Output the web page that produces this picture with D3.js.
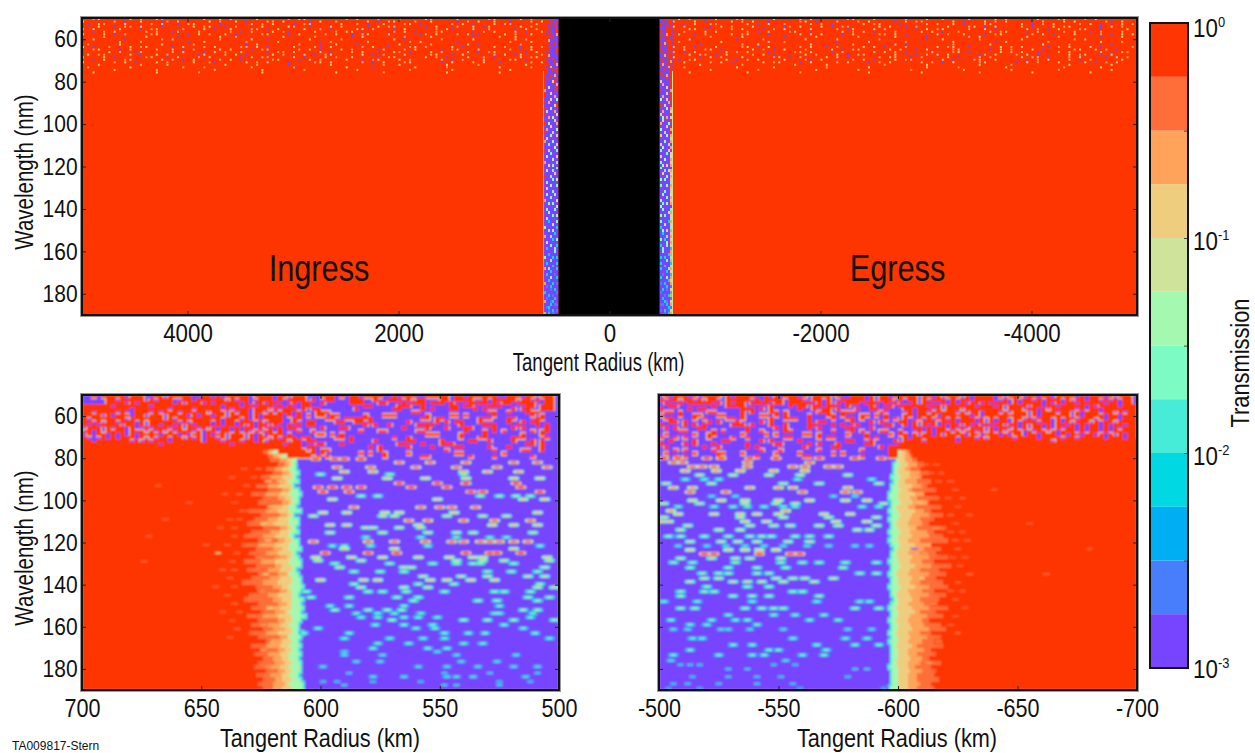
<!DOCTYPE html>
<html>
<head>
<meta charset="utf-8">
<script src="https://cdn.jsdelivr.net/npm/d3@7"></script>
<style>
  html, body { margin: 0; background: #fff; overflow: hidden; }
  svg { display: block; }
  text { font-family: "Liberation Sans", Arial, sans-serif; fill: #111; }
</style>
</head>
<body>
<div id="chart"></div>
<script>
// transmission bands, index 0 = 10^-3 ... index 11 = 10^0
const BAND_COLORS = [
  '#7744ff', '#487dfc', '#00aef4', '#00d8e4', '#47ecd9', '#7cfcc4',
  '#a5f8b0', '#d0e39a', '#efcd7f', '#ffa25a', '#ff6d38', '#ff3503'
];
const BAND_EDGES = [0.001, 0.00178, 0.00316, 0.00562, 0.01, 0.0178, 0.0316, 0.0562, 0.1, 0.178, 0.316, 0.562, 1];
const COLORBAR_TICKS = [0.001, 0.00316, 0.01, 0.0316, 0.1, 0.316, 1];
const COLORBAR_LABELS = [[1, '0', 14], [0.1, '-1', 12], [0.01, '-2', 11.5], [0.001, '-3', 10]];

const WL_TICKS = [60, 80, 100, 120, 140, 160, 180];
const TOP_TICKS = [4000, 2000, 0, -2000, -4000];
const INGRESS_TICKS = [700, 650, 600, 550, 500];
const EGRESS_TICKS = [-500, -550, -600, -650, -700];

// char -> band for the speckle grids, '.' leaves the background showing
const CHAR_BAND = { p: 0, b: 1, c: 3, t: 5, g: 6, w: 7, y: 8, o: 9, r: 11 };

// top panel: occulted core and the two dark limb strips (km)
const CORE_RANGE = [483, -474];
const STRIP_LEFT = [625, 483];
const STRIP_RIGHT = [-474, -597];

// top panel speckle, 50 km columns, 1.2 nm rows from 50 nm
const topNoiseIngress = [
  '..oy.p...y.o..yo.....p.y..y.o...py.....o.yy..p....o.y...o.p.y....yo..p.y.....oy.p..y.o.',
  'y.....o.p..y...po.y.....y.o..y.p...oo.y....p.y..o.....y.p.oy...o..y....p.o.y..y..p...o.y',
  '.p.yo...y....o.y..p.oy....p.....y.o.y...p.oy.....y..o.p..y...oy.p.....o.y.p...y.oo....y.',
  '...y..p.oo.y...p.....y.oy..p.o....y....yo..p...y.o....p.y.oy.....p.y...o..y.po.....y.o..',
  'o.y....y...p.oy....o...y.p..y...oo.p.y....y..o.p....yy.o...p.y.....o.yp...y..o....p.y.o.',
  '..p.o.y.....y.o..py...y.....o.p.y...y.op....y...o.yy.p.....o.y.p...oy.....p.o.y...y.p..o',
  'y...y.p.o....oy.....p.y.o..y.p....oy...p.y....o.y..p.oy...y.....po.y...o.y.p....y.o..y..',
  '....o.......y.....p.......y..o........y.....o......p.y.......o....y.......p....o..y.....',
  '..y.....p......o.y........o.....y..p.......y.....o.........y.p......o.....y.......y.o...',
  '.......y...o........p..y.......o.....y.......p.o......y.......o.y......p.........o...y..',
  '.o.....y.......y.....o.........p.y.......o......y...p.......y.....o......y.p.......o....',
  'y.p..o...y.oy....p.y...o.y....oo.y.p....y...op.y.....o.y..p...oy.o....y.p.....y.o..p.y.o',
  '..oy...p.y....o..y.p.o....y.y...p.oy.....o.y.p...y.o....py...o.y....p.oy...y.....o.p.y..',
  'p....y.o..py.....o.y...p.y.o..y....p.oo.y....y.p...o.y.....yo.p...y.o....y.p.oy.....p.y.',
  '.y.oo....y.p..y.o.....py...o.y.p....y.o...y.p.oy.....y.p.o...y....oy..p.y.....o.y.py...o',
  'o...y.p.....oy..p.y...o.y.....p.y.oo....y.p...y.o..y....p.oy.....y.o.p...y..o.p....y.oy.',
  '..p.y...oy.....y.o.p.y....o.y.p.....oy...p.y.o....y..p.oy...y.o.....y.p.o...y....oy.p...',
  'y.....o.y.p...y.o....y..op.....y.o.y...p....oy.y.....o.p.y...oy.....p.y...o.y..p.....o.y',
  '...y.......o....y..........y.....o.....p.......y.........o..y........y.....o........y...',
  '.o.......y.........y...o........y.......o.........y....p.......y.....o.........y.....o..',
  '......y.......o..........y........y.......o.........y.........o.......y..........y......',
  '..y...........y.......o...........y.............y........o...........y.........y........'
];
const topNoiseEgress = [
  '.y.o..p.y...oy.....y.p..o.y....p.oy...y.....o.p.y..o....yp...y.o.....y.p.oy...o.y..p....',
  'o...y.p....y.o.y..p.....oy.p...y...o.y....p.y.oo.....y.p...y.o.y....p.o...y.y.....op.y..',
  '..p.y..oo.....y.p.y..o....y.o.p.....y.oy...p....y.o..y.p...oy.....y.p.o.y....o.y.p...y.o',
  'y.o....p.y.o...y.....po.y...y.p.oo.....y.y..p.o.....y...oy.p.y....o.p...y.oy.....p.y.o..',
  '...yy.p....o.y...p.o.y....y....o.py...y.o.....p.y.oy....o..y.p.....y.o.p.y...oy..p....y.',
  'p.o...y.y.....o.p.y...oy..p.....y.o.y.p...o....y.y.p..o.....y.oy...p.y....o.y..p.o...y..',
  '.y..p.o....y.oy...p.....y.o.y...p.y....oo.y.p.....y.o..y...p.oy.....o.y.p...y....o.p.y.y',
  '.......o.....y.......p.....y.......o......y.....p.......o.y........y.....o.......p...y..',
  '...y........p....o.......y.....y.......o........p..y......o.......y.........o.y.........',
  '.o.......y........y..o.........p.....y......o........y.......p.y.......o.........y...o..',
  '.....p.......o..y.........y.......o.......y.p........o......y.........y....o.......p....',
  'y.o.p...y....oy.p.y.....o.y..p.o....y.y.p...o.....y.oy..p.....y.o.y....p.o.y...y.p.....o',
  '..y...oy.p.....y.o.p.y...o....y.p.oy.....y.o..p.y....oy.....p.y.o...y.p.....oy..y.o.p...',
  'o.p.y.....y.o.y...p....oy.y...p.o.....y.y.o.p....y...oy.p.....y.o.y..p...o.y.....y.p.oo.',
  '...y.oo.p.y....o.y.p.....y.o...y.p.oy.....y...p.o.y.y.....po.y...o.y.p.....y.oy..p.y....',
  'y....p.y.o...y.....oy.p.o....y.y.p.....o.yy..p.o....y.p...y.o.....y.oy.p...o.y....p.y.o.',
  '.p.oy.....y.p.o.y....y...op.y.....o.y.p...y.oo.....y.p...oy..y.....p.o.y...y.p.o.....y..',
  '..y....o.y.p.....y.oy...p.y....o.y...p.o.y.....y.o.p.y....oy.....p.y.o...y....y.p.o.y...',
  '.....y.......o.........y.....y..........o.......y.........y.....o..........y.......y....',
  '..o.........y......y.........o.......y..........y.....o........y..........o......y......',
  '.......y........o..........y.......y.........o.........y........y........o.........y....',
  '...y..........y.........o............y.........y..........o.........y..........y........'
];

// limb strips, 20 km columns, 1.4 nm rows from 50 nm
const stripLeftNoise = [
  'rrr.r..', 'rrrr..r', 'rr.r.r.', 'rrr...r', 'rr.r..r', 'r.rr..o', 'rrr.r..', 'rro....', 'rrr..r.', 'rr.r...', 'rrr...r', 'r.r...r', 'rro....', 'r.r.r..', 'rr...r.', 'rrr...o', 'r.ro...', 'rr..r.r',
  'rr....r', 'r..r.o.', 'r.r...r', 'r...yr.', 'r.....o', 'r.y...r', 'o....r.', 'r..y...', 'r....o.', '...y..g', 'r.o....', '.....yr', 'r..g...', '.y...o.', 'r.....y', '..o.g..', '.....y.', 'r.g...o', '...y...', '.o....g', 'r...y..', '...g..y', '.y.....', 'o...g..', '..t...y',
  '.....g.', 'r.y...t', '...t...', '.g....y', '....g..', 'o.....t', '..y.g..', '......t', '.g..t..', '.....y.', 'r..g...', '....t.g', '.t.....', '...g..t', '.y.....', '....t..', '.g...g.', '...t...', 'o.....g', '..g.t..', '......g', '.t...t.', '..g....', '....t.g', '.t.....', '..c...t', '....g..', 't.....c', '..t.g..', '.....c.', 'o..t...', '....c.t', '.g.....', '...t..c', '.c...t.', '.....t.',
  '..c....', 't...c.c', '...t...', '.c....c', '....c..', 'o.t...c', '...c...', '.c...b.', '...t..c', '..c....', 'o...c.b', '.b.c...', '...b.c.', 'c.....b', '..c.b..', '.b...c.', 'o..bc..', '...c.bb', '.bc....', '..b.c.b', 'o.c.b..'
];
const stripRightNoise = [
  '..r.rr', '.r..rr', 'r..r.r', '...rrr', 'r..rrr', '.r.orr', 'r..rr.', '...rrr', 'r.o.rr', '..r.rr', 'r...rr', '.r.r.r', '..o.rr', 'r..r.r', '.r..ro', '.o.r.r', 'r...or', '..r..r',
  'r....r', '.r.o.r', '...r.r', 'y....r', '.o...r', '...y.r', 'r....o', '...y.r', '.o...r', 'g..y.r', '....o.', 'r.y..r', '...g.o', '.o...y', 'y....r', '.g.o.y', '.y...r', 'o...g.', '...y.r', 'g....o', '..y..r', 'y..g.o', '.....y', '..g..o', 'y...t.',
  '.g...o', 't...y.', '...t.y', 'y....g', '..g..o', 't....y', '.g.y.o', 't.....', '..t.go', '.y...y', '...g.o', 'g.t..y', '.....t', 't..g.o', '.....y', '..t..y', '.g...g', '...t.o', 'g....y', '.t.g.o', 'g.....', '.t...t', '....go', 'g.t..y', '.....t', 't...co', '..g..y', 'c....t', '.g.t.o', '.c...y', '...t.o', 't.c..y', '...g.o', 'c..t.y', '.t...c', '.t...o',
  '....co', 'c.c..t', '...t.o', 'c....c', '..c..y', 'c...to', '...c.y', '.b...c', 'c..t.o', '....cy', 'b.c..o', '...c.b', '.c.b.y', 'b....c', '..b.co', '.c...b', '..cb.y', 'bb.c.o', '....cb', 'b.c.by', '..b.co'
];

// lower panels, 50-80 nm: red blocks on the purple floor, 2 km columns, 1.5 nm rows
const ingressClumps = [
  '..r.rrrrr.rrr..rr.rrrrr..rr.r.rrrrr.rrrr.rr.rrr...rrr.r.rr.rrrr..r.rrr..rrrrr.rr.rrrrrr..rrr.rr.rrr',
  '.....rr.rrrrr.r.rrr..rr.rrrrrr.r.rr..rrr.r.rrrr.r..rr...rrr..r..rrr.r.rr...rr.rrrr..r.rrrrr.rr.r.rr',
  '.....rrrr.r.rrrrrrr.r.rrr.r.rrrrr.r.rr.rr...r.rr..r.....rrr...rr...r.rrr.rrr.r...rrrr.r.rr.rrrr..rr',
  'rrrrrr.rrrrrrr.rrrrrrrrrrrrrr.rrr.rr.rrr.r.r..rr...........rr.....rrr..r.....rr.rr...rrr.....rr.rrr',
  'rrrrrrrrrr.rrrrrrr.rrrr.rrrrr.r.rrr.rrr.r.rrr.r.rr.......r.......rr....r.r...rr...r.r.....r.rr..rrr',
  'rr.rrrr.r..rrr.r.rrr.rrrrr.rrr.r.rr.rr.r.rrr.r...rrr.................rr..............rr..r...rrr....',
  'rrrr.r.rrr.rr.rrr.rrrr.r.rr.rr.rrrr.r.rrrr.r.r.r.rr.rr.....r...rrr......r....rr.r.....r.......r.r..',
  'r.rrrrrrr.rrrrrrr.r.rrrrrrrrr.rrr.r.r.rrrr..rr.....rr..rrrrrr..........rr.rr.......rrr...rr....rr..',
  'rr.r.rr.rrr.r.rrrrrr.r.rrrr.r.rr.rrr.r.rrr..r..rr....rr..rr.r.......r.....r.r.rr...r.....r..r.rr...',
  'r.r.rrrr.rr.r.rr.rr.r.r.rrr.r.rr.r.r.rr.r..r.r.rr..........r.r..r.....rrrr.....r....rrr....r...r.r.',
  '.rrr.r.rr.r..r.rrr.rr.rr.r.r.rr.r.rr.r.r.r.rr.....r...rr...........r....r...r...rr....r...r.r....r.',
  'rr.r.rrrr.rrr.r.r.r.rrr.r.rr.rr.r.r.r.rr.r...r..r.........r...rr......rr........r...r.r.r.....r.rr.',
  '.r.rr.r.r.r.rrrr.rrr.r.rr.r.rr.rrr.r.r.rrr.r.....rr.r.r.................rrr....r....r.......r...r..',
  'r...r.r.rrr.r.r.rr.rr.r.r.rr.r.rrr.r.rr.r.rrr.rr.....rr.r........r..r..........r...rr.....rrr....r.',
  'rr.rrrrrrr.r.r.rrr.rrrrrr.rrr.rrr.rr.r.rrrr.rr.rr.......r....r......rr.....r.....rr..r....r...r.r..',
  'rrrrrrrrrrrrrrrr.rrrrrrrrrrrrrr.rrrrrrrrrr.rrr...rr...r...........rr...r...rrr...............rr.r..',
  'rrrrrrrrrrrrrrrrrrrrrrrrrrrrrrrrrrrrrrrrrrrrrr.rr...........r.r.....r....r....rr.....r...r......r..',
  'rrrrrrrrrrrrrrrrrrrrrrrrrrrrrrrrrrrrrrrrrrrrrrr.r.rr..........r.............r.........r.....rr..r..',
  'rrrrrrrrrrrrrrrrrrrrrrrrrrrrrrrrrrrrrrrrrrrrrrrrr.r.......r.r..r....r.........rr........r..........',
  'rrrrrrrrrrrrrrrrrrrrrrrrrrrrrrrrrrrrrrrrrrrrrrrr.r.r...........r.......rr........r....r.......r....'
];
const egressClumps = [
  '.r.rrr.r.rrrr.r.rrrr..r.r.rrr.r.rrrr.r..rrr.r.rr.rrrrr.rr.r.rrr.r.rrrr.r.rrr.rr.rr.rrrr.r.rrr.r.rrr',
  'r.rr.rr.r.rr..rrrrr.r.rrrr.rrr..rr.r..rrrrr.r.rrr.r.rr.r.rrr.r.rr.rrrr..r.r.rr.r.rrr.r.rr.rr.r.r.rr',
  '.r..r.rrrrr.r.r.rr.rrrr.rr.rrrrr.r.r.r.rrr.rrr.r.r...r.rr..r.r.r.rr.r.rrr.r.rrrr.r.r.rr.rrrrr.rr.rr',
  '..rr.......r..rrrr.....r...r.rr.rr.rr..r....r...r.rrrrrr.rr.rrrrrr.rrr.r.rrrr.rr.rr.rrrrr.r.rrrr.rrr',
  'r.....r.rr.......rrr.r.r.....r..r.rr.r...r..rr.r...rr.rrr.r.rrr.rrrrrrrr.rrr.rr.r.rrrrr.r.rr.rrrrrrr',
  '.rr.r.....rr.....r.r...rr.r......rrr..rrr.....r.....r.rr.rrrrr.r.rr.rrr.r.rrr.r.rrr.rr.r.rrr.rr.r.rr',
  'r...r..rr...rr...r...rr.r.r....r...rr.r...rr.r.r...rr.rrrr.rrrrrr.r.rrrrrrrrr.r.rrrrrr.r.rrrr.rr.rrr',
  '.rr....r.r....rr.r.....r..rrr..r....r..rr.r....r.r.r..r.r.rr.r.rrr.r.r.rr.rr.r.rrr.r.rr.rrr.r.rr.rrr',
  '..rr.r....r.r...r....r.r.......r.rr.....r...r.r...rr.r.rrr.rrr.rrr.r.r.rr.r.rrr.rr.r.r.rrr.r.rr.rrrr',
  'r....r.r.r.....rrr.r...r..r....rr...r.r..r.....rr..r.r.r.r.r.rr.r.r.r.rr.rr.r.rr.r.rr.r.r.rr.r.rr.rr',
  '.r.r....rr........r.....r.r....r.r.....rr...r........rr.r.rr.r.r.rrr.r.rr.r.r.rr.r.r.rr.r.rr.r.r.rrr',
  '....rr.....r.r....r..r....rr........r...r.r...rr..r...r.r.rrr.r.rr.r.r.r.rrr.r.rr.r.rrr.r.rr.r.rrrrr',
  '.r.....r..rr.....r....r.r.....rr.r.....r...r....r.rr.r.rr.r.rrrr.rr.rrr.r.rr.rr.rrr.r.rr.rr.r.r.r.rr',
  'r..r.r....r....r..r.......rr.....r.rr......r.r.....r.rrrrrrrrr.rrr.r.rrrrr.rrrr.rrrr.rr.rrrrr.rrr.rr',
  '..r....r.....rr......r.r.....r.........rr...r....r.rrrr.rrrrrr.rrrrrrrrrrrrrrrrrrr.rrrrrrrrrrrrrrrrrr',
  'r....r.r...r......r.....rr.....r.r...r.....rr.....rrrrrrrrrrrrrrrrrrrrrrrrrrrrrrrrrrrrrrrrrrrrrrrrrrr',
  '.r.......r..r.....r.r.........r.....rr........r.rrrrrrrrrrrrrrrrrrrrrrrrrrrrrrrrrrrrrrrrrrrrrrrrrrrrr',
  '...r.r.....r.........r...r.......r........r.....rrrrrrrrrrrrrrrrrrrrrrrrrrrrrrrrrrrrrrrrrrrrrrrrrrrrr',
  '.r.....r....rr...r......r....r......r.r.........rrrrrrrrrrrrrrrrrrrrrrrrrrrrrrrrrrrrrrrrrrrrrrrrrrrrr',
  '...r.r......r.......r.........rr..........r.....rrrrrrrrrrrrrrrrrrrrrrrrrrrrrrrrrrrrrrrrrrrrrrrrrrrrr'
];

// lower panels, wavelengths of the radial transition profile (nm)
const edgeWl = [76,78,80,82,84,86,88,90,92,94,96,98,100,102,104,106,108,110,112,114,116,118,120,122,124,126,128,130,132,134,136,138,140,142,144,146,148,150,152,154,156,158,160,162,164,166,168,170,172,174,176,178,180,182,184,186,188,190];

// radius where each band gives way to the next, ingress side (km)
const ingressRed = [626,624,622,621,618,623,620,625,621,627,622,629,624,626,621,630,625,628,631,624,629,632,626,633,627,630,625,632,627,631,626,629,633,627,625,630,632,626,629,625,631,626,629,624,630,626,623,629,625,628,624,626,628,623,627,624,626,624];
const ingressOrange = [624,622,620,617,615,619,616,621,617,622,616,623,618,616,620,623,617,622,625,617,621,624,618,626,620,623,617,625,619,622,618,621,624,620,617,622,620,618,623,619,624,618,622,620,623,617,621,623,618,622,620,619,621,618,621,619,620,620];
const ingressAmber = [623,621,618,614,613,616,613,616,615,618,613,617,615,613,616,618,614,618,619,614,617,619,615,619,616,618,614,619,616,617,614,617,618,616,614,618,616,614,617,615,618,615,617,615,618,614,616,617,615,617,616,615,617,615,616,616,615,616];
const ingressTan = [622,620,616,612,612,613,612,612,613,612,612,613,612,612,613,613,612,613,613,612,613,613,612,613,613,612,612,613,612,612,613,612,612,613,612,612,612,612,612,613,612,612,613,612,612,613,612,613,612,613,613,612,613,612,613,612,613,612];
const ingressFront = [621,618,614,610,610,610,609,610,609,611,609,608,609,609,610,608,611,609,609,610,609,611,609,609,608,610,609,608,608,610,609,608,608,607,608,609,607,608,607,608,606,608,609,609,607,608,609,608,609,608,609,608,608,608,609,608,607,607];

// same profile, egress side
const egressRed = [-604,-605,-606,-608,-611,-609,-613,-610,-614,-612,-616,-611,-617,-613,-618,-614,-619,-615,-613,-620,-615,-619,-621,-614,-618,-616,-621,-615,-622,-617,-620,-616,-619,-621,-615,-620,-617,-614,-621,-616,-619,-613,-618,-620,-614,-618,-615,-619,-614,-616,-613,-618,-614,-616,-615,-617,-614,-615];
const egressOrange = [-603,-604,-605,-606,-608,-605,-609,-607,-608,-610,-606,-611,-608,-612,-607,-611,-613,-609,-610,-608,-612,-613,-609,-614,-611,-609,-613,-610,-614,-609,-613,-611,-609,-613,-610,-613,-609,-611,-613,-609,-612,-610,-611,-613,-609,-612,-610,-608,-611,-608,-610,-609,-607,-610,-608,-608,-609,-608];
const egressAmber = [-602,-603,-603,-603,-604,-603,-605,-604,-603,-606,-604,-607,-605,-606,-604,-607,-606,-605,-604,-607,-605,-606,-604,-607,-605,-604,-606,-605,-607,-605,-604,-606,-605,-607,-604,-605,-606,-604,-606,-607,-605,-604,-605,-606,-604,-605,-604,-606,-604,-604,-605,-604,-604,-605,-604,-604,-604,-604];
const egressTan = [-601,-601,-601,-600,-601,-600,-600,-601,-600,-600,-601,-600,-600,-601,-599,-600,-601,-600,-599,-600,-601,-600,-600,-601,-600,-599,-600,-600,-601,-600,-599,-600,-600,-601,-600,-599,-600,-600,-599,-600,-600,-599,-600,-600,-599,-600,-600,-599,-600,-600,-600,-599,-600,-600,-600,-600,-600,-600];
const egressFront = [-600,-600,-600,-599,-598,-598,-598,-597,-598,-597,-597,-596,-596,-597,-597,-596,-597,-596,-597,-597,-596,-597,-596,-597,-598,-597,-597,-596,-597,-597,-596,-597,-597,-596,-597,-597,-598,-597,-596,-597,-597,-596,-597,-597,-596,-597,-596,-597,-597,-597,-597,-597,-596,-597,-597,-597,-597,-596];

// isolated specks: [wavelength, band, radius, radius, ...]
const ingressSpecks = [
  [80.4, 11, 602, 594, 590, 583], [82, 10, 567, 554, 539, 519, 509], [84.3, 10, 593, 579, 560, 543, 526, 505],
  [86.4, 9, 590, 578, 540, 530, 517], [87.6, 6, 600, 571, 540], [89.5, 8, 593, 572, 556, 539, 519, 508],
  [91.9, 11, 567, 551, 539, 518], [93.8, 11, 601, 595, 589, 583, 562, 547, 516], [95.9, 11, 599, 588, 537, 532, 508],
  [97.9, 6, 583, 576, 533, 525, 518, 512], [99.5, 8, 595, 551, 515, 506], [103.3, 10, 586, 558, 550, 545, 535],
  [105.8, 8, 599, 589, 573, 567, 544, 509], [107.4, 7, 603, 574, 569, 547, 532, 522], [109.6, 10, 563, 555, 540, 527, 512],
  [111.7, 8, 596, 589, 559, 528, 519, 509], [113, 7, 581, 578, 567, 558], [115.3, 7, 596, 574, 555, 543, 536, 511],
  [117.5, 5, 581, 558, 543, 529, 522], [119.6, 10, 603, 580, 569, 556, 545, 540, 533, 529, 525, 519, 513],
  [121.6, 5, 595, 590, 579, 555, 508], [123, 8, 590, 569, 519], [125, 11, 598, 580, 568, 539, 529, 526, 516],
  [127, 8, 602, 587, 574, 559, 546, 536, 532, 505], [128.6, 7, 601, 583, 543, 532, 523, 504], [130, 6, 594, 571, 553, 543, 536, 533, 519],
  [131.8, 7, 592, 565, 562, 506], [133.8, 6, 586, 575, 565, 530, 520, 509], [136, 7, 557, 541, 530, 513, 506],
  [137.8, 8, 600, 582, 576, 554, 547, 537, 527], [139.7, 6, 586, 559, 544, 508], [141.3, 7, 583, 565, 555, 509, 502],
  [143.3, 6, 606, 580, 574, 564, 548, 527, 523, 512], [146, 6, 604, 588, 568, 559, 513, 504], [147.6, 6, 561, 534, 526, 509],
  [150.1, 5, 596, 588, 565, 525], [152, 6, 594, 580, 572, 566, 515, 509], [153.6, 5, 585, 576, 569, 558, 527, 525, 511],
  [155.5, 5, 583, 576, 565, 559, 551, 512], [156.8, 6, 570, 540, 530, 519, 502], [159.1, 5, 577, 565, 553, 523],
  [160.7, 5, 601, 560, 552, 515], [163, 5, 607, 588, 548, 538, 531, 510], [165.5, 5, 590, 571, 557, 548, 504],
  [167.9, 5, 576, 563, 540, 532], [170.2, 5, 578, 555, 547], [171.8, 4, 590, 551], [173.4, 4, 590, 574, 543, 518],
  [176.5, 4, 585, 575, 541, 526], [178.9, 4, 599, 559, 547, 534, 519, 509], [182, 3, 588, 548, 529, 509],
  [183.7, 4, 578, 565, 547, 543, 536, 514], [186, 3, 599, 593, 578, 558, 525, 512], [187.6, 3, 590, 548, 543, 525]
];
const egressSpecks = [
  [80, 11, -502, -508, -520, -526, -538, -549, -567, -582, -593], [82, 10, -506, -510, -537, -563],
  [84, 10, -514, -518, -523, -537, -556, -561, -571, -575], [86, 9, -511, -524, -534, -548, -561],
  [88, 7, -517, -531, -546, -559, -579], [90, 5, -511, -519, -525, -558, -589], [92, 7, -503, -522, -552, -567, -592],
  [94, 9, -506, -514, -538, -550, -556, -579], [96, 10, -513, -528, -560, -578, -583], [98, 4, -522, -532, -573, -582],
  [100, 8, -514, -526, -536, -550, -563, -578, -587], [101.5, 7, -502, -517, -536, -549, -557, -594],
  [103, 5, -508, -523, -531, -537, -544, -552, -557, -585, -592], [105, 9, -505, -553],
  [106.5, 8, -508, -523, -534, -541, -550, -569, -580], [108, 7, -502, -534, -552, -571, -591],
  [110, 8, -501, -504, -536, -545, -574, -587], [112, 7, -512, -538, -548, -555, -567, -575, -591],
  [114, 7, -509, -525, -534, -583, -588], [117, 6, -504, -509, -519, -529, -538, -543, -547, -557, -563, -571],
  [119.6, 7, -513, -526, -533, -541, -554, -563], [121.6, 4, -508, -520, -528, -536, -544, -552, -562, -571, -582, -588],
  [123.5, 8, -513, -529, -536, -542, -549], [125.4, 11, -519, -523, -542, -555, -559], [127.5, 7, -509, -522, -532, -538, -551],
  [129.5, 6, -506, -514, -532, -551, -560, -567, -578, -591], [132, 6, -513, -529, -541, -553, -577],
  [134.6, 6, -518, -525, -529, -541, -546, -584, -591], [137, 7, -519, -525, -549, -556, -561, -573],
  [138.6, 7, -513, -531, -537, -543, -552, -565], [141, 6, -520, -537, -546], [143.3, 6, -509, -519, -523, -556, -560],
  [145.4, 6, -509, -531, -539, -546, -567], [148, 5, -502, -516, -539, -566, -584, -588],
  [151.2, 6, -509, -515, -536, -543, -548, -552, -582, -592], [154.4, 5, -529, -548, -557, -569],
  [156.8, 5, -505, -522, -532, -537, -563, -575], [159, 5, -513, -520, -541],
  [161.2, 4, -506, -512, -526, -529, -538, -552, -579, -589], [165.5, 5, -514, -518, -556, -578, -587],
  [168.6, 5, -531, -539, -566, -582, -592], [171, 5, -513, -546, -550, -570], [173.4, 5, -506, -525, -539, -544, -560, -569],
  [176, 4, -505, -553], [178, 3, -509, -513, -517, -548, -557], [180, 3, -529, -537, -582, -587],
  [183.7, 3, -514, -529, -541, -551, -579], [187, 3, -506, -512, -525, -541, -556], [189, 2, -504, -517, -559, -594]
];
// small flecks in and around the comb of the transition zone
const ingressFlecks = [
  [85, 10, 632, 626], [89, 10, 637, 628], [93, 10, 668, 631], [97, 10, 640, 634], [101, 10, 655, 636], [105, 10, 633, 630],
  [109, 10, 665, 638, 634], [113, 10, 642, 636], [117, 10, 672, 636], [121, 10, 648, 639], [125, 8, 643], [125, 10, 635], [129, 10, 674, 637],
  [133, 10, 641, 636], [137, 10, 638], [141, 10, 644, 636], [145, 10, 639], [149, 10, 636], [153, 10, 641, 634], [157, 10, 637], [161, 10, 635], [165, 10, 638],
  [91, 8, 622, 617], [103, 8, 621, 618], [111, 8, 624, 619], [119, 8, 622], [127, 9, 626, 618], [135, 8, 623], [143, 9, 625], [151, 8, 621], [159, 9, 624], [171, 9, 624], [179, 9, 622]
];
const egressFlecks = [
  [83, 10, -612, -616], [87, 10, -618, -614], [91, 10, -622, -617], [95, 10, -624, -640], [99, 10, -621, -627], [103, 10, -625], [107, 10, -630, -622],
  [111, 10, -624, -655], [115, 10, -627, -622], [119, 10, -629, -624], [123, 10, -625, -680], [127, 10, -628, -623], [131, 10, -626], [135, 10, -630, -662],
  [139, 10, -625], [143, 10, -627, -622], [147, 10, -624], [151, 10, -628], [155, 10, -624], [159, 10, -622], [163, 10, -625],
  [89, 8, -608, -604], [101, 8, -609, -605], [113, 9, -616, -606], [123, 0, -607], [125, 9, -611], [137, 8, -610], [149, 9, -615], [167, 9, -617], [177, 9, -613]
];

const width = 1255;
const height = 753;

const svg = d3.select('#chart').append('svg')
  .attr('width', width)
  .attr('height', height);

const defs = svg.append('defs');
[['soften', 0.6], ['soften-more', 0.8]].forEach(([id, amount]) => {
  defs.append('filter')
    .attr('id', id)
    .attr('x', '-2%').attr('y', '-2%').attr('width', '104%').attr('height', '104%')
    .append('feGaussianBlur')
      .attr('stdDeviation', amount);
});

const bandColor = (band) => BAND_COLORS[Math.max(0, band)];

function makePanel({ id, box, radiusDomain, xTicks, showY, tickScale, filter }) {
  const x = d3.scaleLinear().domain(radiusDomain).range([box.left, box.right]);
  const y = d3.scaleLinear().domain([50, 190]).range([box.top, box.bottom]);

  defs.append('clipPath')
    .attr('id', 'clip-' + id)
    .append('rect')
      .attr('x', box.left)
      .attr('y', box.top)
      .attr('width', box.right - box.left)
      .attr('height', box.bottom - box.top);

  const outer = svg.append('g').attr('clip-path', 'url(#clip-' + id + ')');
  const marks = outer.append('g').attr('filter', 'url(#' + filter + ')');

  return { x, y, box, marks, xTicks, showY, tickScale };
}

// rows of characters -> one rect per non-empty cell
function gridCells(rows, startRadius, radiusStep, startWl, wlStep) {
  const cells = [];
  rows.forEach((row, j) => {
    Array.from(row).forEach((ch, i) => {
      if (ch in CHAR_BAND) {
        cells.push({
          r0: startRadius + i * radiusStep,
          r1: startRadius + (i + 1) * radiusStep,
          wl0: startWl + j * wlStep,
          wl1: startWl + (j + 1) * wlStep,
          band: CHAR_BAND[ch],
        });
      }
    });
  });
  return cells;
}

function drawCells(panel, cells, grow) {
  const { x, y, marks } = panel;
  marks.append('g')
    .attr('shape-rendering', 'crispEdges')
    .selectAll('rect')
    .data(cells)
    .join('rect')
      .attr('x', d => Math.min(x(d.r0), x(d.r1)) - grow)
      .attr('y', d => y(d.wl0) - grow)
      .attr('width', d => Math.abs(x(d.r1) - x(d.r0)) + 2 * grow)
      .attr('height', d => y(d.wl1) - y(d.wl0) + 2 * grow)
      .attr('fill', d => bandColor(d.band));
}

function drawDots(panel, cells, size) {
  const { x, y, marks } = panel;
  marks.append('g')
    .selectAll('rect')
    .data(cells)
    .join('rect')
      .attr('x', d => x(d.r0))
      .attr('y', d => y(d.wl0))
      .attr('width', size)
      .attr('height', size)
      .attr('fill', d => bandColor(d.band));
}

function drawSpecks(panel, speckRows, outerW, outerH, haloDrop) {
  const { x, y, marks } = panel;
  const specks = speckRows.flatMap(([wl, band, ...radii]) =>
    radii.map(r => ({ wl, band, r })));

  marks.append('g')
    .selectAll('rect')
    .data(specks)
    .join('rect')
      .attr('x', d => x(d.r) - outerW / 2)
      .attr('y', d => y(d.wl) - outerH / 2)
      .attr('width', outerW)
      .attr('height', outerH)
      .attr('rx', outerH / 2)
      .attr('fill', d => bandColor(d.band - haloDrop));

  marks.append('g')
    .selectAll('rect')
    .data(specks)
    .join('rect')
      .attr('x', d => x(d.r) - outerW * 0.28)
      .attr('y', d => y(d.wl) - outerH * 0.3)
      .attr('width', outerW * 0.56)
      .attr('height', outerH * 0.6)
      .attr('fill', d => bandColor(d.band));
}

// nested areas from the outer panel edge to each transition radius
function drawEdges(panel, outerRadius, layers) {
  const { x, y, marks } = panel;
  const area = d3.area()
    .x0(x(outerRadius))
    .x1(d => x(d.r))
    .y(d => y(d.wl))
    .curve(d3.curveStepAfter);

  layers.forEach(({ radii, band }) => {
    marks.append('path')
      .datum(radii.map((r, i) => ({ r, wl: edgeWl[i] })))
      .attr('d', area)
      .attr('shape-rendering', 'crispEdges')
      .attr('fill', bandColor(band));
  });

  const front = d3.line()
    .x(d => x(d.r))
    .y(d => y(d.wl))
    .curve(d3.curveStepAfter);

  marks.append('path')
    .datum(layers[0].radii.map((r, i) => ({ r, wl: edgeWl[i] })).filter(d => d.wl >= 82))
    .attr('d', front)
    .attr('fill', 'none')
    .attr('stroke', bandColor(4))
    .attr('stroke-width', 2);
}

function scaledTicks(sel, ratio, fontSize) {
  sel.selectAll('text')
    .attr('font-size', fontSize)
    .attr('transform', 'scale(' + ratio + ',1)');
}

function drawAxes(panel) {
  const { x, y, box, xTicks, showY, tickScale } = panel;
  const plain = d => String(d);

  const bottom = svg.append('g')
    .attr('transform', 'translate(0,' + box.bottom + ')')
    .call(d3.axisBottom(x).tickValues(xTicks).tickSize(-4).tickSizeOuter(0).tickPadding(8.5).tickFormat(plain));
  bottom.select('.domain').remove();
  scaledTicks(bottom, tickScale, 26);

  svg.append('g')
    .attr('transform', 'translate(0,' + box.top + ')')
    .call(d3.axisTop(x).tickValues(xTicks).tickSize(-4).tickSizeOuter(0).tickFormat(''))
    .select('.domain').remove();

  const left = svg.append('g')
    .attr('transform', 'translate(' + box.left + ',0)')
    .call(d3.axisLeft(y).tickValues(WL_TICKS).tickSize(-4).tickSizeOuter(0).tickPadding(5)
      .tickFormat(showY ? plain : ''));
  left.select('.domain').remove();
  scaledTicks(left, 0.875, 24);

  svg.append('g')
    .attr('transform', 'translate(' + box.right + ',0)')
    .call(d3.axisRight(y).tickValues(WL_TICKS).tickSize(-4).tickSizeOuter(0).tickFormat(''))
    .select('.domain').remove();

  svg.selectAll('.tick line').attr('stroke', '#222');

  // soft grey rim then the black frame, the reference is slightly out of focus
  svg.append('rect')
    .attr('x', box.left - 0.5).attr('y', box.top - 0.5)
    .attr('width', box.right - box.left + 1).attr('height', box.bottom - box.top + 1)
    .attr('fill', 'none').attr('stroke', '#999').attr('stroke-width', 3);
  svg.append('rect')
    .attr('x', box.left).attr('y', box.top)
    .attr('width', box.right - box.left).attr('height', box.bottom - box.top)
    .attr('fill', 'none').attr('stroke', '#111').attr('stroke-width', 2);
}

function label(txt, px, py, size, xScale, rotate) {
  const transform = 'translate(' + px + ',' + py + ')' +
    (rotate ? ' rotate(-90)' : '') + ' scale(' + xScale + ',1)';
  return svg.append('text')
    .attr('transform', transform)
    .attr('text-anchor', 'middle')
    .attr('font-size', size)
    .text(txt);
}

// ---- top panel ----
const topPanel = makePanel({
  id: 'top',
  box: { left: 82, right: 1137, top: 18, bottom: 315 },
  radiusDomain: [5000, -5000],
  xTicks: TOP_TICKS,
  showY: true,
  tickScale: 0.86,
  filter: 'soften',
});

topPanel.marks.append('rect')
  .attr('x', topPanel.box.left).attr('y', topPanel.box.top)
  .attr('width', topPanel.box.right - topPanel.box.left)
  .attr('height', topPanel.box.bottom - topPanel.box.top)
  .attr('fill', bandColor(11));

drawDots(topPanel, gridCells(topNoiseIngress, 5000, -50, 50, 1.2), 2);
drawDots(topPanel, gridCells(topNoiseEgress, -600, -50, 50, 1.2), 2);

[[STRIP_LEFT, 9], [STRIP_RIGHT, 7]].forEach(([range, rimBand]) => {
  const x0 = topPanel.x(range[0]);
  const x1 = topPanel.x(range[1]);
  topPanel.marks.append('rect')
    .attr('x', x0)
    .attr('y', topPanel.y(50))
    .attr('width', x1 - x0)
    .attr('height', topPanel.y(190) - topPanel.y(50))
    .attr('fill', bandColor(0));
  // the strip's outer side meets the red field through a thin pale rim
  topPanel.marks.append('rect')
    .attr('x', range === STRIP_LEFT ? x0 - 0.5 : x1 - 0.5)
    .attr('y', topPanel.y(75))
    .attr('width', 1)
    .attr('height', topPanel.y(190) - topPanel.y(75))
    .attr('fill', bandColor(rimBand));
});

drawCells(topPanel, gridCells(stripLeftNoise, STRIP_LEFT[0], -20, 50, 1.4), 0);
drawCells(topPanel, gridCells(stripRightNoise, STRIP_RIGHT[0], -20, 50, 1.4), 0);

topPanel.marks.append('rect')
  .attr('x', topPanel.x(CORE_RANGE[0]))
  .attr('y', topPanel.y(50))
  .attr('width', topPanel.x(CORE_RANGE[1]) - topPanel.x(CORE_RANGE[0]))
  .attr('height', topPanel.y(190) - topPanel.y(50))
  .attr('fill', '#000');

// ---- lower panels ----
const ingressPanel = makePanel({
  id: 'ingress',
  box: { left: 82, right: 559, top: 395, bottom: 690 },
  radiusDomain: [700, 500],
  xTicks: INGRESS_TICKS,
  showY: true,
  tickScale: 0.83,
  filter: 'soften-more',
});
const egressPanel = makePanel({
  id: 'egress',
  box: { left: 659, right: 1137, top: 395, bottom: 690 },
  radiusDomain: [-500, -700],
  xTicks: EGRESS_TICKS,
  showY: false,
  tickScale: 0.83,
  filter: 'soften-more',
});

[
  {
    panel: ingressPanel, clumps: ingressClumps, clumpStart: 700, clumpStep: -2, outer: 700,
    layers: [[ingressFront, 6], [ingressTan, 8], [ingressAmber, 9], [ingressOrange, 10], [ingressRed, 11]],
    specks: ingressSpecks, flecks: ingressFlecks,
  },
  {
    panel: egressPanel, clumps: egressClumps, clumpStart: -500, clumpStep: -2, outer: -700,
    layers: [[egressFront, 6], [egressTan, 8], [egressAmber, 9], [egressOrange, 10], [egressRed, 11]],
    specks: egressSpecks, flecks: egressFlecks,
  },
].forEach(({ panel, clumps, clumpStart, clumpStep, outer, layers, specks, flecks }) => {
  panel.marks.append('rect')
    .attr('x', panel.box.left).attr('y', panel.box.top)
    .attr('width', panel.box.right - panel.box.left)
    .attr('height', panel.box.bottom - panel.box.top)
    .attr('fill', bandColor(0));

  const cells = gridCells(clumps, clumpStart, clumpStep, 50, 1.5);
  // pale rim first so every block keeps the interpolated halo of the original
  drawCells(panel, cells.map(d => ({ ...d, band: 8 })), 0.5);
  drawCells(panel, cells, 0.2);

  drawEdges(panel, outer, layers.map(([radii, band]) => ({ radii, band })));
  drawSpecks(panel, specks, 11, 3.6, 3);
  drawSpecks(panel, flecks, 7, 1.6, 0);
});

drawAxes(topPanel);
drawAxes(ingressPanel);
drawAxes(egressPanel);

// ---- colorbar ----
const cbar = { left: 1150, right: 1188, top: 23, bottom: 668 };
const cbarScale = d3.scaleLog().domain([0.001, 1]).range([cbar.bottom, cbar.top]);

svg.append('g')
  .selectAll('rect')
  .data(BAND_COLORS)
  .join('rect')
    .attr('x', cbar.left)
    .attr('y', (d, i) => cbarScale(BAND_EDGES[i + 1]))
    .attr('width', cbar.right - cbar.left)
    .attr('height', (d, i) => cbarScale(BAND_EDGES[i]) - cbarScale(BAND_EDGES[i + 1]))
    .attr('fill', d => d);

const cbarAxis = svg.append('g')
  .attr('transform', 'translate(' + cbar.right + ',0)')
  .call(d3.axisRight(cbarScale).tickValues(COLORBAR_TICKS).tickSize(-4).tickSizeOuter(0).tickFormat(''));
cbarAxis.select('.domain').remove();
cbarAxis.selectAll('.tick line').attr('stroke', '#444');

svg.append('rect')
  .attr('x', cbar.left).attr('y', cbar.top)
  .attr('width', cbar.right - cbar.left).attr('height', cbar.bottom - cbar.top)
  .attr('fill', 'none').attr('stroke', '#111').attr('stroke-width', 2);

COLORBAR_LABELS.forEach(([value, power, drop]) => {
  const baseline = cbarScale(value) + drop;
  svg.append('text')
    .attr('transform', 'translate(1193,' + baseline + ') scale(0.86,1)')
    .attr('font-size', 26)
    .text('10');
  svg.append('text')
    .attr('transform', 'translate(1218,' + (baseline - 10) + ') scale(0.86,1)')
    .attr('font-size', 15)
    .text(power);
});

// ---- labels ----
label('Tangent Radius (km)', 598.5, 371, 25, 0.745);
label('Tangent Radius (km)', 320, 747, 26, 0.835);
label('Tangent Radius (km)', 897, 747, 26, 0.835);
label('Wavelength (nm)', 33, 172, 25, 0.82, true);
label('Wavelength (nm)', 33, 548, 25, 0.82, true);
label('Transmission', 1249, 363, 26, 0.84, true);
label('Ingress', 319, 281, 37, 0.83);
label('Egress', 897.5, 281, 37, 0.83);

svg.append('text')
  .attr('x', 12)
  .attr('y', 750)
  .attr('font-size', 12)
  .text('TA009817-Stern');
</script>
</body>
</html>
